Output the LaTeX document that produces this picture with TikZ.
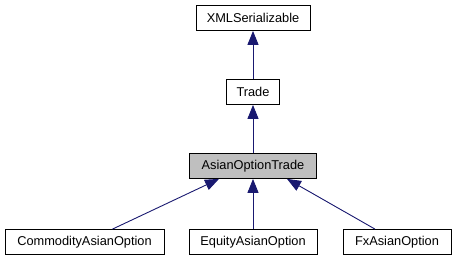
\documentclass[tikz,border=0pt]{standalone}
\usepackage{fontspec}
\setmainfont{Liberation Sans}
\usetikzlibrary{arrows.meta,positioning}
\definecolor{edgeblue}{HTML}{191970}
\definecolor{basegray}{HTML}{BFBFBF}

\begin{document}
\begin{tikzpicture}[x=1pt,y=1pt,node distance=74pt,on grid,
	cls/.style={draw,rectangle,line width=0.8pt,minimum height=25pt,inner sep=0pt,
		font=\fontsize{12.8}{14}\selectfont},
	inh/.style={draw=edgeblue,line width=0.9pt,-{Triangle[length=14pt,width=11pt]}}]
					\useasboundingbox (0,0) rectangle (457,-261);
					\node[cls, minimum width=114pt] (xml) at (253,-18) {XMLSerializable};
					\node[cls, minimum width=53pt] (trade) [below=of xml] {Trade};
					\node[cls, minimum width=127pt, fill=basegray] (aot) [below=of trade] {AsianOptionTrade};
					\node[cls, minimum width=128pt] (eqt) [below=76pt of aot] {EquityAsianOption};
					\node[cls, minimum width=159pt] (comm) [below left=76pt and 168.5pt of aot] {CommodityAsianOption};
					\node[cls, minimum width=108pt] (fx) [below right=76pt and 144pt of aot] {FxAsianOption};
					\path
					(trade) edge[inh] (xml)
					(aot) edge[inh] (trade)
					(eqt) edge[inh] (aot)
					([xshift=28pt]comm.north) edge[inh] ([xshift=-34pt]aot.south)
					([xshift=-22pt]fx.north) edge[inh] ([xshift=34pt]aot.south)
					;
				\end{tikzpicture}
\end{document}
